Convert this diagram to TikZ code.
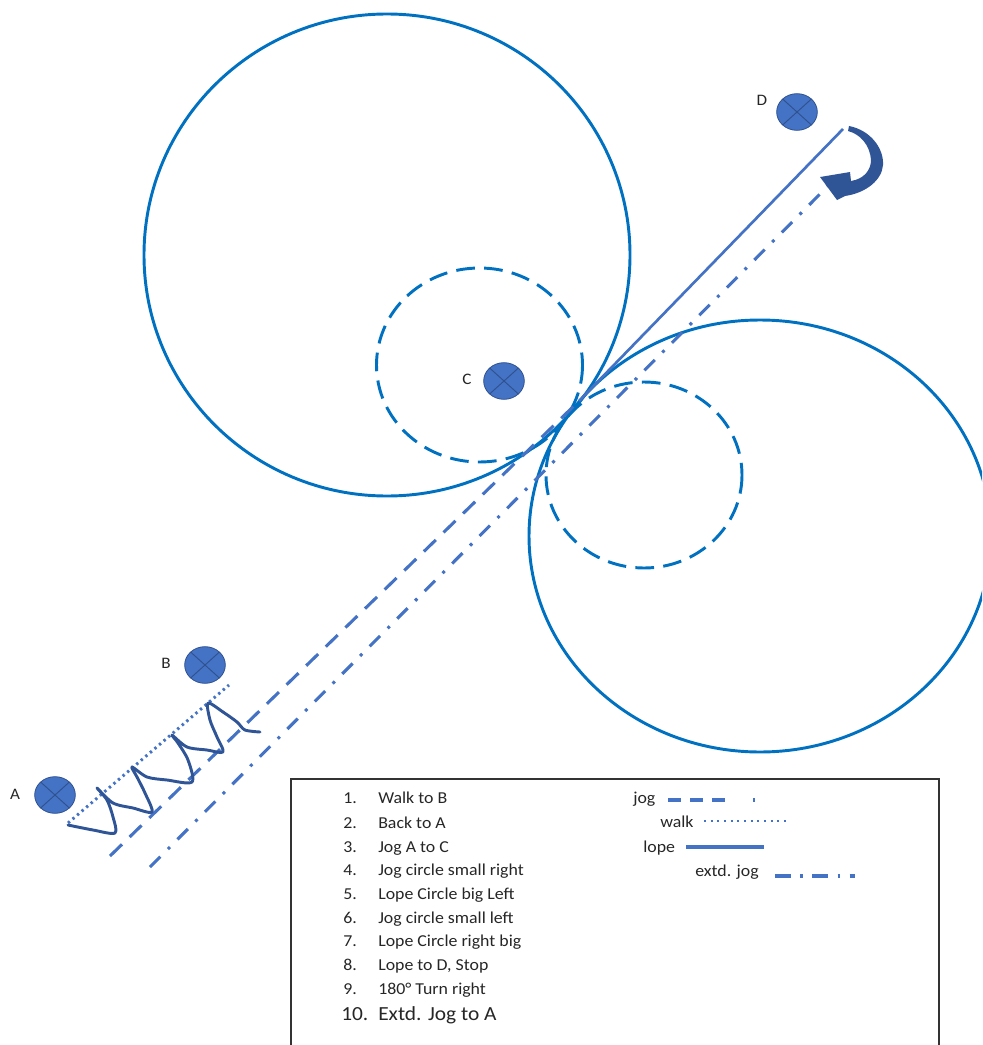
\documentclass[tikz,border=0pt]{standalone}
\usepackage{fontspec}
\setmainfont{Carlito}[FakeStretch=1.07]
\usetikzlibrary{shapes.geometric}
\definecolor{circblue}{RGB}{0,112,192}
\definecolor{lineblue}{RGB}{68,114,196}
\definecolor{zigblue}{RGB}{47,85,151}
\definecolor{mkfill}{RGB}{68,114,196}
\definecolor{mkdark}{RGB}{47,82,143}
\definecolor{arrblue}{RGB}{47,85,151}
\begin{document}
\begin{tikzpicture}[x=0.75pt,y=-0.75pt,
  bigcirc/.style={draw=circblue, line width=2.2pt},
  smallcirc/.style={draw=circblue, line width=2.2pt, dash pattern=on 14pt off 7pt},
  jogline/.style={draw=lineblue, line width=2.3pt, dash pattern=on 12.5pt off 8pt},
  walkline/.style={draw=lineblue, line width=2.2pt, dash pattern=on 1.8pt off 2.7pt},
  lopeline/.style={draw=lineblue, line width=2pt},
  extjog/.style={draw=lineblue, line width=2.3pt, dash pattern=on 11pt off 8pt on 2.2pt off 8pt},
  zig/.style={draw=zigblue, line width=2.2pt, line cap=round, line join=round},
  marker/.style={ellipse, draw=mkdark, line width=0.6pt, fill=mkfill,
    minimum width=30.5pt, minimum height=27.5pt, inner sep=0pt,
    path picture={\draw[mkdark, line width=0.7pt]
      (path picture bounding box.north west) -- (path picture bounding box.south east)
      (path picture bounding box.north east) -- (path picture bounding box.south west);}},
  lbl/.style={font=\fontsize{12}{14}\selectfont, text=black!85, inner sep=0pt},
  legtxt/.style={font=\fontsize{12.5}{15}\selectfont, text=black!85, inner sep=0pt, anchor=base west},
  legbig/.style={font=\fontsize{15}{18}\selectfont, text=black!85, inner sep=0pt, anchor=base west}
]
\useasboundingbox (0,0) rectangle (982,1045);
\clip (0,0) rectangle (982,1045);

% circles
\draw[bigcirc] (387,255) ellipse [x radius=243, y radius=241];
\draw[bigcirc] (760,536) ellipse [x radius=231, y radius=216];
\draw[smallcirc] (479.5,365) ellipse [x radius=103, y radius=97];
\draw[smallcirc] (644,475) ellipse [x radius=98, y radius=93];

% coordinates
\coordinate (T) at (579,401);
\coordinate (lopeEnd) at (843,129);
\coordinate (jogStart) at (110,856);
\coordinate (xjStart) at (150,867);
\coordinate (xjEnd) at (828,186);
\coordinate (walkA) at (68,823);
\coordinate (walkB) at (229,685);

% paths
\draw[lopeline] (T) -- (lopeEnd);
\draw[jogline] (jogStart) -- (T);
\draw[extjog] (xjStart) -- (xjEnd);
\draw[walkline] (walkA) -- (walkB);

% hand-drawn zigzag
\draw[zig] plot[smooth, tension=0.5] coordinates {
 (68,825) (93,830) (115,833) (113,817) (107,800) (97,788)
 (113,803) (133,808) (152,812) (145,793) (137,777) (132,767)
 (147,777) (167,780) (192,782) (188,760) (178,743) (172,735)
 (187,747) (207,750) (223,752) (217,737) (210,720) (208,703)
 (223,712) (237,722) (245,730) (260,732)};

% curved turn arrow
\fill[arrblue] (849,126) .. controls (870,130) and (884,148) .. (883,165)
  .. controls (882,180) and (866,193) .. (845,196) -- (837,200) -- (820,177)
  -- (850,172) -- (851,181) .. controls (864,179) and (871,170) .. (871,160)
  .. controls (870,145) and (860,134) .. (848,131) -- cycle;

% markers
\node[marker] (A) at (55,795) {};
\node[marker] (B) at (205,665) {};
\node[marker] (C) at (504,381) {};
\node[marker] (D) at (797,112) {};
\node[lbl] (lA) at (15,794) {A};
\node[lbl] (lB) at (166,663) {B};
\node[lbl] (lC) at (467,379) {C};
\node[lbl] (lD) at (762,100) {D};

% legend box
\draw[black!80, line width=1.5pt] (291,1060) -- (291,779) -- (939,779) -- (939,1060);

\node[legtxt] (n1) at (343,803) {1.};  \node[legtxt] (t1) at (378,803) {Walk to B};
\node[legtxt] (n2) at (343,828) {2.};  \node[legtxt] (t2) at (378,828) {Back to A};
\node[legtxt] (n3) at (343,852) {3.};  \node[legtxt] (t3) at (378,852) {Jog A to C};
\node[legtxt] (n4) at (343,875) {4.};  \node[legtxt] (t4) at (378,875) {Jog circle small right};
\node[legtxt] (n5) at (343,899) {5.};  \node[legtxt] (t5) at (378,899) {Lope Circle big Left};
\node[legtxt] (n6) at (343,923) {6.};  \node[legtxt] (t6) at (378,923) {Jog circle small left};
\node[legtxt] (n7) at (343,946) {7.};  \node[legtxt] (t7) at (378,946) {Lope Circle right big};
\node[legtxt] (n8) at (343,970) {8.};  \node[legtxt] (t8) at (378,970) {Lope to D, Stop};
\node[legtxt] (n9) at (343,994) {9.};  \node[legtxt] (t9) at (378,994) {180° Turn right};
\node[legbig] (n10) at (341,1020) {10.}; \node[legbig] (t10) at (378,1020) {Extd. Jog to A};

\node[legtxt] (kjog) at (633,803) {jog};
\coordinate (kjog1) at (668,800); \coordinate (kjog2) at (757,800);
\draw[draw=lineblue, line width=2.3pt, dash pattern=on 10.1pt off 6.4pt on 10.1pt off 6.4pt on 10.1pt off 20.5pt on 1.4pt off 20pt] (kjog1) -- (kjog2);
\node[legtxt] (kwalk) at (660,827) {walk};
\coordinate (kwalk1) at (704,821); \coordinate (kwalk2) at (789,821);
\draw[draw=lineblue, line width=2pt, dash pattern=on 1.6pt off 3.4pt] (kwalk1) -- (kwalk2);
\node[legtxt] (klope) at (643,852) {lope};
\coordinate (klope1) at (686,847); \coordinate (klope2) at (764,847);
\draw[draw=lineblue, line width=2.4pt] (klope1) -- (klope2);
\node[legtxt] (kext) at (695,876) {extd. jog};
\coordinate (kext1) at (775,876); \coordinate (kext2) at (855,876);
\draw[draw=lineblue, line width=2.3pt, dash pattern=on 12pt off 7pt on 2pt off 7pt] (kext1) -- (kext2);
\end{tikzpicture}
\end{document}
